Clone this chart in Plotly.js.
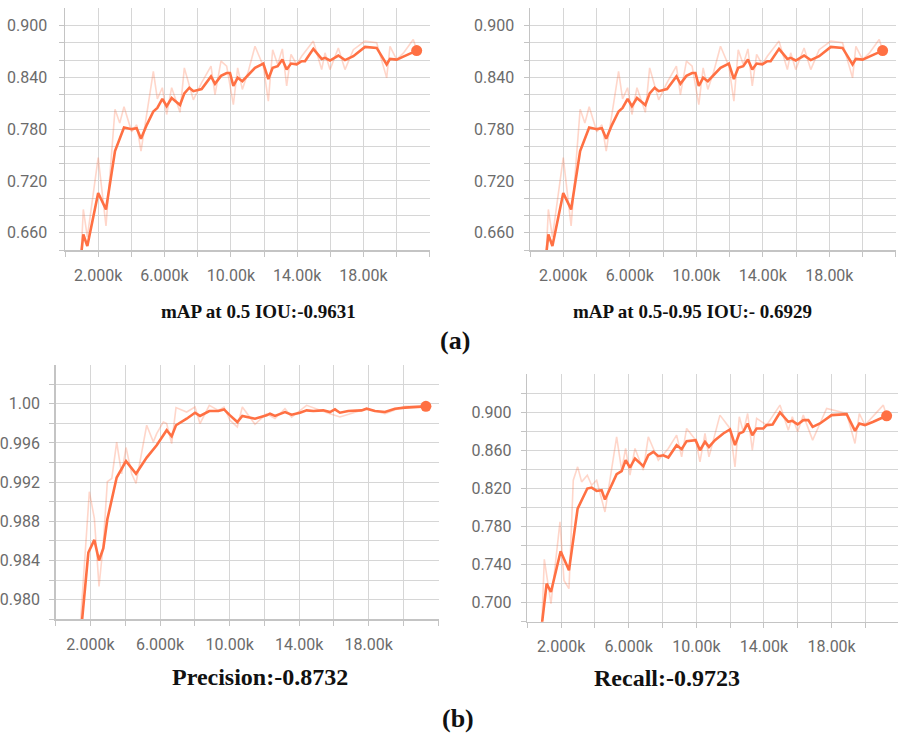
<!DOCTYPE html>
<html>
<head>
<meta charset="utf-8">
<script src="https://cdn.plot.ly/plotly-3.0.1.min.js"></script>
<style>html,body{margin:0;padding:0;background:#fff;}#chart{width:898px;height:733px;}</style>
</head>
<body>
<div id="chart"></div>
<script>
// ---------------- DATA ----------------
// mAP (smoothed + raw), same curve shown in both (a) panels
const mapSmoothX = [960, 1105, 1347, 2000, 2472, 3015, 3558, 4020, 4321, 4583, 4930, 5327, 5568, 5870, 6131, 6432, 6935, 7196, 7497, 7739, 8241, 8804, 9045, 9407, 9749, 9950, 10151, 10412, 10693, 11055, 11457, 11960, 12261, 12523, 12824, 13106, 13367, 13628, 13970, 14271, 14472, 14975, 15477, 15678, 15980, 16482, 16884, 17387, 18090, 18794, 19397, 19598, 20000, 20402, 21206];
const mapSmoothY = [0.632, 0.658, 0.6446, 0.706, 0.687, 0.7546, 0.782, 0.780, 0.781, 0.769, 0.785, 0.8005, 0.8045, 0.815, 0.8065, 0.816, 0.808, 0.8215, 0.828, 0.824, 0.8265, 0.841, 0.8325, 0.8417, 0.845, 0.845, 0.830, 0.8395, 0.8355, 0.843, 0.851, 0.856, 0.838, 0.851, 0.853, 0.8606, 0.849, 0.856, 0.855, 0.8587, 0.8587, 0.873, 0.8614, 0.8626, 0.8595, 0.8653, 0.860, 0.8645, 0.8753, 0.8741, 0.855, 0.8614, 0.8606, 0.864, 0.871];
const mapRawX = [960, 1105, 1347, 2000, 2472, 3015, 3300, 3558, 4020, 4321, 4583, 5327, 5568, 5870, 6131, 6432, 6935, 7196, 7739, 8241, 8804, 9045, 9407, 9749, 10151, 10412, 10693, 11055, 11457, 11960, 12261, 12523, 12824, 13106, 13367, 13628, 13970, 14271, 14975, 15477, 15678, 15980, 16482, 16884, 17387, 18090, 18794, 19397, 19598, 20000, 20402, 21000, 21206];
const mapRawY = [0.630, 0.687, 0.655, 0.747, 0.668, 0.803, 0.787, 0.806, 0.777, 0.785, 0.7546, 0.847, 0.815, 0.828, 0.797, 0.828, 0.7995, 0.851, 0.814, 0.834, 0.853, 0.820, 0.8587, 0.853, 0.8085, 0.851, 0.826, 0.847, 0.876, 0.853, 0.8124, 0.872, 0.855, 0.873, 0.830, 0.8665, 0.855, 0.8645, 0.882, 0.849, 0.8684, 0.849, 0.8741, 0.849, 0.872, 0.882, 0.880, 0.8394, 0.876, 0.8606, 0.868, 0.8838, 0.872];

// Precision
const precSmoothX = [1494, 1878, 2222, 2491, 2740, 2970, 3506, 4043, 4618, 5231, 5806, 6380, 6668, 6917, 7530, 8009, 8296, 8832, 9350, 9676, 10021, 10442, 10730, 11458, 12128, 12320, 12608, 12991, 13182, 13565, 14044, 14428, 14811, 15385, 15768, 16055, 16343, 16822, 17588, 17876, 18355, 18930, 19504, 20079, 20750, 21286];
const precSmoothY = [0.9775, 0.98481, 0.9861, 0.984, 0.98525, 0.9882, 0.99247, 0.99414, 0.99285, 0.9945, 0.99576, 0.99729, 0.99668, 0.9978, 0.99847, 0.99908, 0.99875, 0.99925, 0.99925, 0.99942, 0.99881, 0.99813, 0.99875, 0.99847, 0.99881, 0.99898, 0.99875, 0.99898, 0.99915, 0.99888, 0.99908, 0.99932, 0.99925, 0.99932, 0.99915, 0.99942, 0.99908, 0.99925, 0.99932, 0.99949, 0.99925, 0.99915, 0.99949, 0.9996, 0.99966, 0.99973];
const precRawX = [1399, 1935, 2222, 2491, 2740, 2970, 3225, 3506, 3793, 4043, 4369, 4618, 5231, 5614, 5806, 6189, 6380, 6668, 6917, 7530, 8009, 8296, 8832, 9350, 9676, 10021, 10442, 10730, 11458, 12128, 12608, 13182, 13565, 14428, 15768, 16343, 17876, 18930, 20079, 20750, 21286];
const precRawY = [0.9770, 0.99102, 0.9883, 0.98136, 0.98576, 0.99204, 0.99237, 0.99607, 0.99285, 0.99553, 0.99285, 0.99186, 0.9978, 0.9961, 0.99695, 0.99814, 0.99797, 0.99593, 0.9996, 0.99915, 0.99966, 0.99797, 0.99983, 0.99932, 0.99966, 0.9983, 0.99763, 0.99966, 0.9979, 0.99898, 0.99848, 0.99949, 0.99864, 0.99983, 0.99898, 0.99864, 0.99949, 0.99898, 0.99973, 0.99973, 0.99973];

// Recall
const recSmoothX = [848, 1144, 1400, 1972, 2465, 2978, 3550, 3806, 4102, 4398, 4595, 4989, 5285, 5581, 5817, 6073, 6370, 6863, 7158, 7454, 7750, 8046, 8342, 8834, 9131, 9426, 9959, 10215, 10511, 10747, 11102, 11595, 11990, 12286, 12542, 12779, 13035, 13311, 13568, 13963, 14159, 14514, 14948, 15441, 15678, 15993, 16328, 16624, 16880, 17314, 18004, 18892, 19385, 19641, 19976, 20470, 20864, 21258];
const recSmoothY = [0.675, 0.720, 0.7112, 0.754, 0.734, 0.7989, 0.8200, 0.8210, 0.8175, 0.8182, 0.8084, 0.8235, 0.8351, 0.8382, 0.8498, 0.8421, 0.8516, 0.8435, 0.8551, 0.8586, 0.854, 0.855, 0.8526, 0.8656, 0.8614, 0.8698, 0.8709, 0.8603, 0.8691, 0.8638, 0.8709, 0.8779, 0.8821, 0.8656, 0.8779, 0.8796, 0.8884, 0.8761, 0.8832, 0.8832, 0.8867, 0.8874, 0.900, 0.8902, 0.8912, 0.8874, 0.8919, 0.8919, 0.8849, 0.8884, 0.8972, 0.8982, 0.8807, 0.8884, 0.8867, 0.8902, 0.8937, 0.8965];
const recRawX = [848, 1006, 1400, 1933, 2170, 2465, 2720, 2978, 3215, 3550, 3806, 4102, 4595, 4989, 5285, 5581, 5817, 6073, 6370, 6863, 7158, 7750, 8342, 8834, 9131, 9426, 9959, 10215, 10511, 10747, 11397, 11990, 12286, 12542, 12779, 13035, 13311, 13568, 14159, 14948, 15441, 15678, 15993, 16328, 16880, 17314, 17708, 18892, 19385, 19641, 19976, 21061, 21258];
const recRawY = [0.672, 0.7456, 0.6989, 0.7849, 0.7234, 0.7147, 0.8287, 0.8428, 0.827, 0.834, 0.8235, 0.8287, 0.7954, 0.8393, 0.8744, 0.8393, 0.8621, 0.834, 0.8621, 0.8393, 0.8744, 0.8498, 0.8621, 0.8761, 0.8533, 0.8832, 0.8709, 0.848, 0.8779, 0.8533, 0.8972, 0.8832, 0.8428, 0.8954, 0.8796, 0.8989, 0.8603, 0.8937, 0.8867, 0.9077, 0.8814, 0.8954, 0.8796, 0.8972, 0.8709, 0.8884, 0.9042, 0.8989, 0.8674, 0.8989, 0.8867, 0.9077, 0.8965];

// Tick positions / labels
const xTickVals = [0, 2000, 4000, 6000, 8000, 10000, 12000, 14000, 16000, 18000, 20000, 22000];
const xTickText = ['', '2.000k', '', '6.000k', '', '10.00k', '', '14.00k', '', '18.00k', '', ''];
const mapTickVals = [0.64, 0.66, 0.68, 0.70, 0.72, 0.74, 0.76, 0.78, 0.80, 0.82, 0.84, 0.86, 0.88, 0.90];
const mapTickText = ['', '0.660', '', '', '0.720', '', '', '0.780', '', '', '0.840', '', '', '0.900'];
const precTickVals = [0.978, 0.980, 0.982, 0.984, 0.986, 0.988, 0.990, 0.992, 0.994, 0.996, 0.998, 1.000, 1.002];
const precTickText = ['', '0.980', '', '0.984', '', '0.988', '', '0.992', '', '0.996', '', '1.00', ''];
const recTickVals = [0.68, 0.70, 0.72, 0.74, 0.76, 0.78, 0.80, 0.82, 0.84, 0.86, 0.88, 0.90, 0.92];
const recTickText = ['', '0.700', '', '0.740', '', '0.780', '', '0.820', '', '0.860', '', '0.900', ''];

// Captions
const captions = ['mAP at 0.5 IOU:-0.9631', 'mAP at 0.5-0.95 IOU:- 0.6929', '(a)', 'Precision:-0.8732', 'Recall:-0.9723', '(b)'];

// ---------------- BUILD ----------------
const W = 898, H = 733;
const ORANGE = '#ff7043';
const px = v => v / W;
const py = v => 1 - v / H;

function traces(xa, ya, rx, ry, sx, sy) {
  return [
    {x: rx, y: ry, xaxis: xa, yaxis: ya, type: 'scatter', mode: 'lines',
     line: {color: ORANGE, width: 1.6}, opacity: 0.28, hoverinfo: 'skip'},
    {x: sx, y: sy, xaxis: xa, yaxis: ya, type: 'scatter', mode: 'lines',
     line: {color: ORANGE, width: 2.6}},
    {x: [sx[sx.length - 1]], y: [sy[sy.length - 1]], xaxis: xa, yaxis: ya, type: 'scatter', mode: 'markers',
     marker: {color: ORANGE, size: 11}, cliponaxis: false}
  ];
}

const data = [].concat(
  traces('x', 'y', mapRawX, mapRawY, mapSmoothX, mapSmoothY),
  traces('x2', 'y2', mapRawX, mapRawY, mapSmoothX, mapSmoothY),
  traces('x3', 'y3', precRawX, precRawY, precSmoothX, precSmoothY),
  traces('x4', 'y4', recRawX, recRawY, recSmoothX, recSmoothY)
);

const common = {
  showgrid: true, gridcolor: '#d6d6d6', gridwidth: 1,
  showline: true, linecolor: '#c4c4c4', linewidth: 1.5,
  ticks: 'outside', ticklen: 5, tickcolor: '#c4c4c4', tickwidth: 1,
  tickfont: {family: 'Roboto, "Open Sans", sans-serif', size: 16, color: '#6b6b6b'},
  zeroline: false, fixedrange: true
};
function xa(d0, d1, anchor, rmax) {
  return Object.assign({}, common, {domain: [d0, d1], anchor: anchor, range: [0, rmax],
    tickmode: 'array', tickvals: xTickVals, ticktext: xTickText, ticklabelstandoff: 5});
}
function ya(d0, d1, anchor, range, tv, tt, so) {
  return Object.assign({}, common, {domain: [d0, d1], anchor: anchor, range: range,
    tickmode: 'array', tickvals: tv, ticktext: tt, ticklabelstandoff: so});
}

function cap(text, x, y, size) {
  return {text: text, x: px(x), y: py(y), xref: 'paper', yref: 'paper', showarrow: false,
    xanchor: 'center', yanchor: 'middle',
    font: {family: '"Liberation Serif", "Times New Roman", serif', size: size, color: '#111', weight: 'bold'}};
}

const layout = {
  width: W, height: H, margin: {l: 0, r: 0, t: 0, b: 0},
  paper_bgcolor: '#ffffff', plot_bgcolor: '#ffffff', showlegend: false,
  xaxis:  xa(px(65), px(430), 'y', 22010),
  yaxis:  ya(py(250), py(8.3), 'x', [0.64, 0.92], mapTickVals, mapTickText, 8),
  xaxis2: xa(px(530), px(896), 'y2', 22010),
  yaxis2: ya(py(250), py(8.3), 'x2', [0.64, 0.92], mapTickVals, mapTickText, 6),
  xaxis3: xa(px(55.7), px(438.5), 'y3', 22010),
  yaxis3: ya(py(619.3), py(364.5), 'x3', [0.978, 1.004], precTickVals, precTickText, 6),
  xaxis4: xa(px(527.3), 1, 'y4', 21930),
  yaxis4: ya(py(621.7), py(374.4), 'x4', [0.68, 0.94], recTickVals, recTickText, 6),
  annotations: [
    cap(captions[0], 258, 311, 19),
    cap(captions[1], 692, 311, 19),
    cap(captions[2], 455, 340, 26),
    cap(captions[3], 260, 677, 24),
    cap(captions[4], 667, 678, 24),
    cap(captions[5], 458, 718, 26)
  ]
};

Plotly.newPlot('chart', data, layout, {staticPlot: true, displayModeBar: false});
</script>
</body>
</html>
